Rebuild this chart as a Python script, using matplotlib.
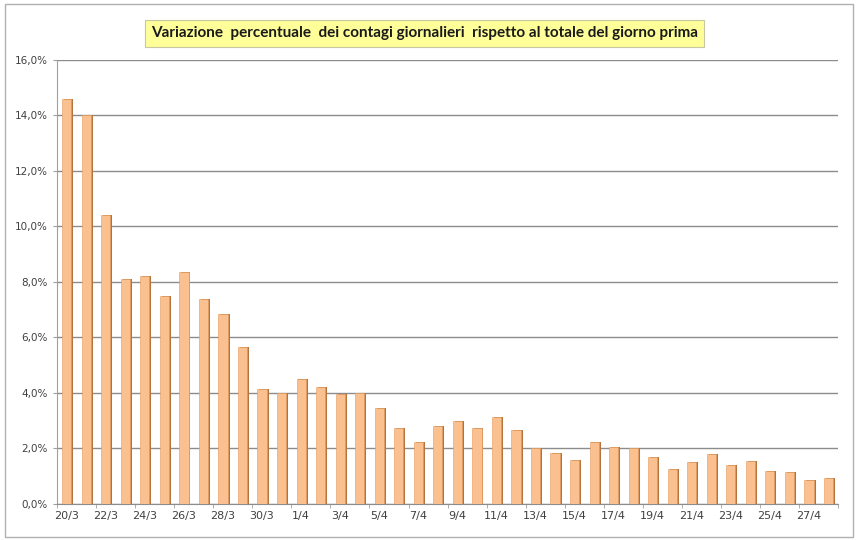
import numpy as np
import matplotlib
matplotlib.use("Agg")
import matplotlib.pyplot as plt
from matplotlib.patches import Rectangle

# daily dates 20/3 .. 28/4
days = [f"{d}/3" for d in range(20, 32)] + [f"{d}/4" for d in range(1, 29)]

# percent change of daily cases vs previous day's total
variazione = [14.6, 14.0, 10.4, 8.1, 8.2, 7.5, 8.35, 7.4, 6.85, 5.65,
              4.15, 4.0, 4.5, 4.2, 3.95, 4.0, 3.45, 2.75, 2.25, 2.8,
              3.0, 2.75, 3.15, 2.65, 2.0, 1.85, 1.6, 2.25, 2.05, 2.0,
              1.7, 1.25, 1.5, 1.8, 1.4, 1.55, 1.2, 1.15, 0.85, 0.95]

y_ticks = np.arange(0, 17, 2)
title = "Variazione  percentuale  dei contagi giornalieri  rispetto al totale del giorno prima"

fig = plt.figure(figsize=(8.58, 5.4), dpi=100)
fig.patch.set_facecolor("white")

# outer chart border
fig.add_artist(Rectangle((0.006, 0.006), 0.988, 0.986, transform=fig.transFigure,
                         fill=False, edgecolor="#b0b0b0", linewidth=1.0))

ax = fig.add_axes([0.0664, 0.0667, 0.9106, 0.8222])
x = np.arange(len(days))

# darker shadow behind each bar for the excel 3d look
ax.bar(x + 0.1, variazione, width=0.47, color="#b5743c", zorder=2)
ax.bar(x, variazione, width=0.47, color="#fac08f", edgecolor="#e49a5c",
       linewidth=0.4, zorder=3)

ax.set_xlim(-0.5, len(days) - 0.5)
ax.set_ylim(0, 16)
ax.set_yticks(y_ticks)
ax.set_yticklabels([f"{v:.1f}%".replace(".", ",") for v in y_ticks])
ax.set_xticks(x[::2])
ax.set_xticklabels(days[::2])
ax.set_xticks(np.arange(-0.5, len(days), 2), minor=True)

ax.grid(axis="y", color="#8c8c8c", linewidth=1.0, zorder=0)
for s in ["top", "right"]:
    ax.spines[s].set_visible(False)
ax.spines["left"].set_color("#a0a0a0")
ax.spines["bottom"].set_color("#8c8c8c")
ax.tick_params(axis="both", labelsize=7.5, colors="#404040", length=3)
ax.tick_params(axis="x", which="major", length=0, pad=5, labelsize=8)
ax.tick_params(axis="x", which="minor", length=3, color="#a0a0a0")
ax.tick_params(axis="y", color="#a0a0a0")

fig.text(0.495, 0.938, title, ha="center", va="center", fontsize=11,
         fontweight="bold", color="#1a1a1a", family=["Lato", "DejaVu Sans"],
         bbox=dict(boxstyle="square,pad=0.4", facecolor="#ffff99",
                   edgecolor="#c8c8a0", linewidth=0.8))

fig.savefig("out.png", dpi=100)
